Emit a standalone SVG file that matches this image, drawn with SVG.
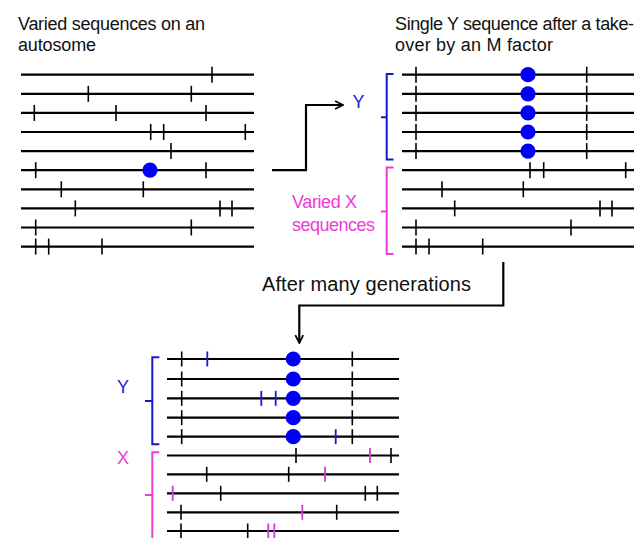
<svg xmlns="http://www.w3.org/2000/svg" width="642" height="538" viewBox="0 0 642 538">
<style>
text{font-family:"Liberation Sans",Arial,sans-serif;font-size:18px;fill:#111}
.chr{stroke:#000;stroke-width:2.2;fill:none}
.tk{stroke:#000;stroke-width:1.6}
.tb{stroke:#1a1ad8;stroke-width:1.8}
.tm{stroke:#d23ccf;stroke-width:1.8}
.dot{fill:#0000f5}
.bb{stroke:#1717d0;stroke-width:2;fill:none}
.bm{stroke:#f03ad6;stroke-width:2;fill:none}
.blue{fill:#1a1ad8}
.mag{fill:#ee3ad6}
.arr{stroke:#000;stroke-width:2.2;fill:none}
</style>
<defs>
<marker id="ah" viewBox="0 0 10 10" refX="9" refY="5" markerWidth="4.5" markerHeight="4.5" orient="auto" markerUnits="strokeWidth">
<path d="M1,1 L9,5 L1,9" fill="none" stroke="#000" stroke-width="1.8"/>
</marker>
</defs>
<rect width="642" height="538" fill="#fff"/>

<g id="title-left">
<text x="18" y="30" textLength="187">Varied sequences on an</text>
<text x="18" y="51" textLength="78">autosome</text>
</g>
<g id="title-right">
<text x="395" y="30" textLength="239">Single Y sequence after a take-</text>
<text x="395" y="51" textLength="158">over by an M factor</text>
</g>
<g id="label-after">
<text x="262" y="291" font-size="20" style="font-size:20px" textLength="209">After many generations</text>
</g>

<g id="autosomes">
<g id="a1"><line class="chr" x1="21" y1="74.7" x2="254" y2="74.7"/><line class="tk" x1="212" y1="66.7" x2="212" y2="82.7"/></g>
<g id="a2"><line class="chr" x1="21" y1="93.8" x2="254" y2="93.8"/><line class="tk" x1="88.3" y1="85.8" x2="88.3" y2="101.8"/><line class="tk" x1="191.3" y1="85.8" x2="191.3" y2="101.8"/></g>
<g id="a3"><line class="chr" x1="21" y1="112.9" x2="254" y2="112.9"/><line class="tk" x1="34.3" y1="104.9" x2="34.3" y2="120.9"/><line class="tk" x1="116" y1="104.9" x2="116" y2="120.9"/><line class="tk" x1="206" y1="104.9" x2="206" y2="120.9"/></g>
<g id="a4"><line class="chr" x1="21" y1="132" x2="254" y2="132"/><line class="tk" x1="150.7" y1="124" x2="150.7" y2="140"/><line class="tk" x1="163.7" y1="124" x2="163.7" y2="140"/><line class="tk" x1="245.3" y1="124" x2="245.3" y2="140"/></g>
<g id="a5"><line class="chr" x1="21" y1="151.1" x2="254" y2="151.1"/><line class="tk" x1="171" y1="143.1" x2="171" y2="159.1"/></g>
<g id="a6"><line class="chr" x1="21" y1="170.2" x2="254" y2="170.2"/><line class="tk" x1="35.7" y1="162.2" x2="35.7" y2="178.2"/><line class="tk" x1="206" y1="162.2" x2="206" y2="178.2"/><circle class="dot" cx="150" cy="170.2" r="7.6"/></g>
<g id="a7"><line class="chr" x1="21" y1="189.3" x2="254" y2="189.3"/><line class="tk" x1="61.3" y1="181.3" x2="61.3" y2="197.3"/><line class="tk" x1="143.3" y1="181.3" x2="143.3" y2="197.3"/></g>
<g id="a8"><line class="chr" x1="21" y1="208.4" x2="254" y2="208.4"/><line class="tk" x1="75.3" y1="200.4" x2="75.3" y2="216.4"/><line class="tk" x1="220" y1="200.4" x2="220" y2="216.4"/><line class="tk" x1="232" y1="200.4" x2="232" y2="216.4"/></g>
<g id="a9"><line class="chr" x1="21" y1="227.5" x2="254" y2="227.5"/><line class="tk" x1="35.7" y1="219.5" x2="35.7" y2="235.5"/><line class="tk" x1="191.3" y1="219.5" x2="191.3" y2="235.5"/></g>
<g id="a10"><line class="chr" x1="21" y1="246.6" x2="254" y2="246.6"/><line class="tk" x1="35.7" y1="238.6" x2="35.7" y2="254.6"/><line class="tk" x1="48.7" y1="238.6" x2="48.7" y2="254.6"/><line class="tk" x1="102" y1="238.6" x2="102" y2="254.6"/></g>
</g>

<g id="takeover">
<g id="y-brace-1"><path class="bb" d="M393.5,74 H386.7 V159.5 H393.5 M386.7,117.3 H381"/><text class="blue" x="352.5" y="108" style="fill:#1a1ad8">Y</text></g>
<g id="x-brace-1"><path class="bm" d="M393.5,167.5 H386.7 V254 H393.5 M386.7,211.5 H381"/>
<text x="292" y="208" style="fill:#ee3ad6" textLength="65">Varied X</text>
<text x="292" y="231" style="fill:#ee3ad6" textLength="83">sequences</text></g>
<g id="y1"><line class="chr" x1="402" y1="74.7" x2="634" y2="74.7"/><line class="tk" x1="416" y1="66.7" x2="416" y2="82.7"/><line class="tk" x1="586.7" y1="66.7" x2="586.7" y2="82.7"/><circle class="dot" cx="528" cy="74.7" r="7.6"/></g>
<g id="y2"><line class="chr" x1="402" y1="93.8" x2="634" y2="93.8"/><line class="tk" x1="416" y1="85.8" x2="416" y2="101.8"/><line class="tk" x1="586.7" y1="85.8" x2="586.7" y2="101.8"/><circle class="dot" cx="528" cy="93.8" r="7.6"/></g>
<g id="y3"><line class="chr" x1="402" y1="112.9" x2="634" y2="112.9"/><line class="tk" x1="416" y1="104.9" x2="416" y2="120.9"/><line class="tk" x1="586.7" y1="104.9" x2="586.7" y2="120.9"/><circle class="dot" cx="528" cy="112.9" r="7.6"/></g>
<g id="y4"><line class="chr" x1="402" y1="132" x2="634" y2="132"/><line class="tk" x1="416" y1="124" x2="416" y2="140"/><line class="tk" x1="586.7" y1="124" x2="586.7" y2="140"/><circle class="dot" cx="528" cy="132" r="7.6"/></g>
<g id="y5"><line class="chr" x1="402" y1="151.1" x2="634" y2="151.1"/><line class="tk" x1="416" y1="143.1" x2="416" y2="159.1"/><line class="tk" x1="586.7" y1="143.1" x2="586.7" y2="159.1"/><circle class="dot" cx="528" cy="151.1" r="7.6"/></g>
<g id="x1"><line class="chr" x1="402" y1="170.2" x2="634" y2="170.2"/><line class="tk" x1="530" y1="162.2" x2="530" y2="178.2"/><line class="tk" x1="543.7" y1="162.2" x2="543.7" y2="178.2"/><line class="tk" x1="625.7" y1="162.2" x2="625.7" y2="178.2"/></g>
<g id="x2"><line class="chr" x1="402" y1="189.3" x2="634" y2="189.3"/><line class="tk" x1="442" y1="181.3" x2="442" y2="197.3"/><line class="tk" x1="523.3" y1="181.3" x2="523.3" y2="197.3"/></g>
<g id="x3"><line class="chr" x1="402" y1="208.4" x2="634" y2="208.4"/><line class="tk" x1="454.7" y1="200.4" x2="454.7" y2="216.4"/><line class="tk" x1="600" y1="200.4" x2="600" y2="216.4"/><line class="tk" x1="612" y1="200.4" x2="612" y2="216.4"/></g>
<g id="x4"><line class="chr" x1="402" y1="227.5" x2="634" y2="227.5"/><line class="tk" x1="416" y1="219.5" x2="416" y2="235.5"/><line class="tk" x1="571" y1="219.5" x2="571" y2="235.5"/></g>
<g id="x5"><line class="chr" x1="402" y1="246.6" x2="634" y2="246.6"/><line class="tk" x1="416" y1="238.6" x2="416" y2="254.6"/><line class="tk" x1="429" y1="238.6" x2="429" y2="254.6"/><line class="tk" x1="482.7" y1="238.6" x2="482.7" y2="254.6"/></g>
</g>

<g id="later">
<g id="y-brace-2"><path class="bb" d="M159.3,357.3 H152.3 V444.3 H159.3 M152.3,401 H145"/><text x="117" y="393" style="fill:#1a1ad8">Y</text></g>
<g id="x-brace-2"><path class="bm" d="M159.3,452.3 H152.3 V540 M152.3,495 H145"/><text x="117" y="464" style="fill:#ee3ad6">X</text></g>
<g id="gy1"><line class="chr" x1="167" y1="359" x2="399" y2="359"/><line class="tk" x1="181.7" y1="351.5" x2="181.7" y2="366.5"/><line class="tb" x1="207.3" y1="351.5" x2="207.3" y2="366.5"/><line class="tk" x1="352.3" y1="351.5" x2="352.3" y2="366.5"/><circle class="dot" cx="293.3" cy="359" r="7.6"/></g>
<g id="gy2"><line class="chr" x1="167" y1="379" x2="399" y2="379"/><line class="tk" x1="181.7" y1="371.5" x2="181.7" y2="386.5"/><line class="tk" x1="352.3" y1="371.5" x2="352.3" y2="386.5"/><circle class="dot" cx="293.3" cy="379" r="7.6"/></g>
<g id="gy3"><line class="chr" x1="167" y1="398.3" x2="399" y2="398.3"/><line class="tk" x1="181.7" y1="390.8" x2="181.7" y2="405.8"/><line class="tb" x1="261.3" y1="390.8" x2="261.3" y2="405.8"/><line class="tb" x1="275.7" y1="390.8" x2="275.7" y2="405.8"/><line class="tk" x1="352.3" y1="390.8" x2="352.3" y2="405.8"/><circle class="dot" cx="293.3" cy="398.3" r="7.6"/></g>
<g id="gy4"><line class="chr" x1="167" y1="417.7" x2="399" y2="417.7"/><line class="tk" x1="181.7" y1="410.2" x2="181.7" y2="425.2"/><line class="tk" x1="352.3" y1="410.2" x2="352.3" y2="425.2"/><circle class="dot" cx="293.3" cy="417.7" r="7.6"/></g>
<g id="gy5"><line class="chr" x1="167" y1="436.7" x2="399" y2="436.7"/><line class="tk" x1="181.7" y1="429.2" x2="181.7" y2="444.2"/><line class="tb" x1="335.7" y1="429.2" x2="335.7" y2="444.2"/><line class="tk" x1="352.3" y1="429.2" x2="352.3" y2="444.2"/><circle class="dot" cx="293.3" cy="436.7" r="7.6"/></g>
<g id="gx1"><line class="chr" x1="167" y1="455.5" x2="399" y2="455.5"/><line class="tk" x1="296" y1="448" x2="296" y2="463"/><line class="tm" x1="370" y1="448" x2="370" y2="463"/><line class="tk" x1="391" y1="448" x2="391" y2="463"/></g>
<g id="gx2"><line class="chr" x1="167" y1="474.3" x2="399" y2="474.3"/><line class="tk" x1="206.7" y1="466.8" x2="206.7" y2="481.8"/><line class="tk" x1="288.7" y1="466.8" x2="288.7" y2="481.8"/><line class="tm" x1="325" y1="466.8" x2="325" y2="481.8"/></g>
<g id="gx3"><line class="chr" x1="167" y1="493.3" x2="399" y2="493.3"/><line class="tm" x1="172.7" y1="485.8" x2="172.7" y2="500.8"/><line class="tk" x1="220.7" y1="485.8" x2="220.7" y2="500.8"/><line class="tk" x1="365.3" y1="485.8" x2="365.3" y2="500.8"/><line class="tk" x1="377.3" y1="485.8" x2="377.3" y2="500.8"/></g>
<g id="gx4"><line class="chr" x1="167" y1="512.3" x2="399" y2="512.3"/><line class="tk" x1="181" y1="504.8" x2="181" y2="519.8"/><line class="tm" x1="302.3" y1="504.8" x2="302.3" y2="519.8"/><line class="tk" x1="336.7" y1="504.8" x2="336.7" y2="519.8"/></g>
<g id="gx5"><line class="chr" x1="167" y1="531" x2="399" y2="531"/><line class="tk" x1="181" y1="523.5" x2="181" y2="538.5"/><line class="tk" x1="247.7" y1="523.5" x2="247.7" y2="538.5"/><line class="tm" x1="268.3" y1="523.5" x2="268.3" y2="538.5"/><line class="tm" x1="274.3" y1="523.5" x2="274.3" y2="538.5"/></g>
</g>

<g id="connectors">
<path class="arr" d="M272,170.2 H306 V105 H343" marker-end="url(#ah)"/>
<path class="arr" d="M503.3,262 V305.5 H299.3 V343" marker-end="url(#ah)"/>
</g>
</svg>
